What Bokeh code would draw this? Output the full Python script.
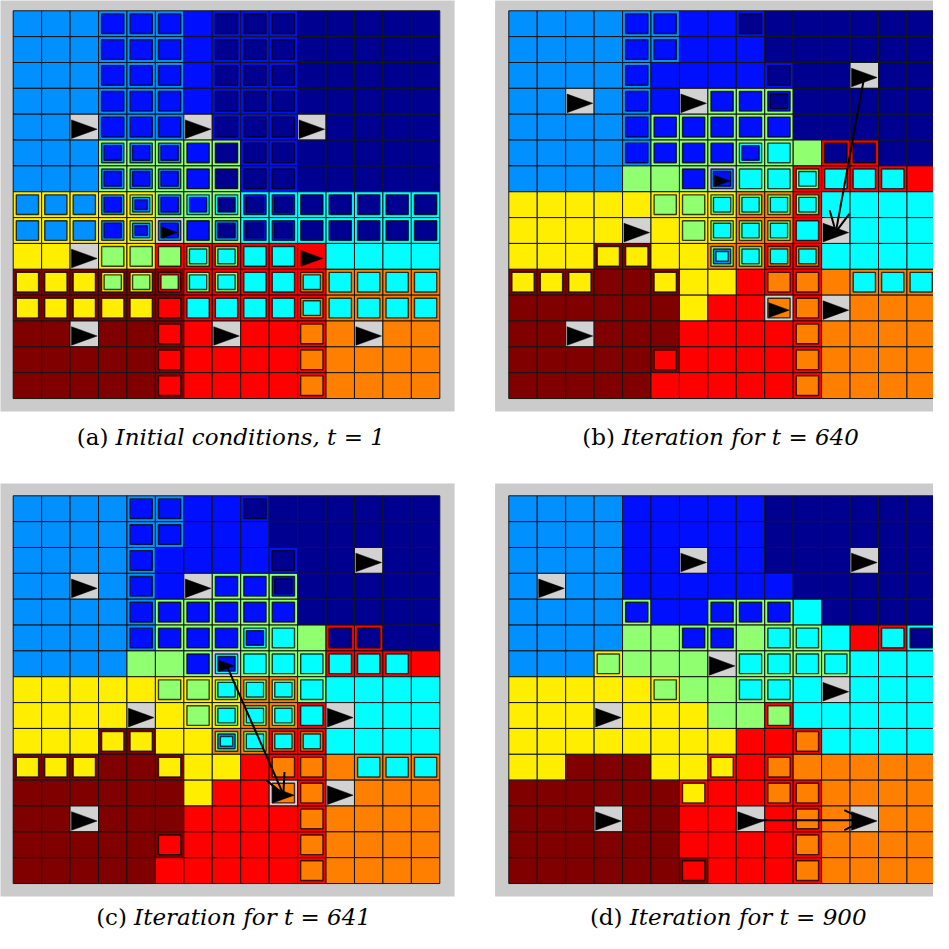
from bokeh.plotting import figure
from bokeh.models import Range1d, Arrow, OpenHead
from bokeh.embed import file_html
from bokeh.resources import INLINE
from bokeh.core.properties import value

# ---------------- data ----------------
# colour codes (jet-like levels) ; W = grey robot cell
COLORS = {"N": "#000090", "B": "#0010FF", "L": "#0090FF", "C": "#00FFFF",
          "G": "#90FF70", "Y": "#FFEE00", "O": "#FF8000", "R": "#FF0000",
          "D": "#800000", "W": "#D2D2D2"}

# each cell: colours from outer ring to inner square
grid_a = [
    "L L L LB LB LB B BN BN BN N N N N N",
    "L L L LB LB LB B BN BN BN N N N N N",
    "L L L LB LB LB B BN BN BN N N N N N",
    "L L L LB LB LB B BN BN BN N N N N N",
    "L L W LB LB LB W BN BN BN W N N N N",
    "L L L GLB GLB GLB GB GN BN BN N N N N N",
    "L L L GLB GLB GLB GB GN BN BN N N N N N",
    "YL YL YL YLB YGLB GLB GCB GCN CBN CBN CN CN CN CN CN",
    "YL YL YL YLB YGLB WLB GB GLN CBN CBN CN CN CN CN CN",
    "Y Y W YG YG RG RGC RGC RC RC R C C C C",
    "DY DY DY DYG DYG DRG RGC RGC RC RC ROC OC OC OC OC",
    "DY DY DY DY DY DR RC RC RC RC ROC OC OC OC OC",
    "D D W D D DR R W R R RO O W O O",
    "D D D D D DR R R R R RO O O O O",
    "D D D D D DR R R R R RO O O O O",
]
grid_b = [
    "L L L L LB LB B B BN N N N N N N",
    "L L L L LB LB B B B N N N N N N",
    "L L L L LB B B B B BN N N W N N",
    "L L W L LB B W GB GB GBN N N N N N",
    "L L L L LB GB GB GB GB GB N N N N N",
    "L L L L LB GB GB GB GCB GC G RN RN N N",
    "L L L L G G GB WLB GC GC RGC RC RC RC R",
    "Y Y Y Y Y YG YG YGC OGC OGC RGC C C C C",
    "Y Y Y Y W Y YG YGC OGC OGC RC W C C C",
    "Y Y Y DY DY Y Y OGLC OGC ROC ROC C C C C",
    "DY DY DY D D DY Y Y R RO RO O OC OC OC",
    "D D D D D D Y R R WO RO W O O O",
    "D D W D D D R R R R RO O O O O",
    "D D D D D DR R R R R RO O O O O",
    "D D D D D R R R R R RO O O O O",
]
grid_c = [
    "L L L L LB LB B B BN N N N N N N",
    "L L L L LB LB B B B N N N N N N",
    "L L L L LB B B B B BN N N W N N",
    "L L W L LB B W GB GB GBN N N N N N",
    "L L L L LB GB GB GB GB GB N N N N N",
    "L L L L LB GB GB GB GCB GC G RN RN N N",
    "L L L L G G GB WCB GC GC GC RC RC RC R",
    "Y Y Y Y Y YG YG YGC OGC OGC GC C C C C",
    "Y Y Y Y W Y YG YGC OGC OGC RC W C C C",
    "Y Y Y DY DY Y Y OGLC OGC ROC ROC C C C C",
    "DY DY DY D D DY Y Y R RO RO O OC OC OC",
    "D D D D D D Y R R WO RO W O O O",
    "D D W D D D R R R R RO O O O O",
    "D D D D D DR R R R R RO O O O O",
    "D D D D D R R R R R RO O O O O",
]
grid_d = [
    "L L L L B B B B B N N N N N N",
    "L L L L B B B B B N N N N N N",
    "L L L L B B W B B N N N W N N",
    "L W L L B B B B B B N N N N N",
    "L L L L GB B B GB GB GB C N N N N",
    "L L L L G G GB GB G GC GC C R RC CN",
    "L L L YG G G G W GC GC GC GC C C C",
    "Y Y Y Y Y YG G G GC GC C W C C C",
    "Y Y Y W Y Y Y G G RG C C C C C",
    "Y Y Y Y Y Y Y Y R R RO C C C C",
    "Y Y D D D Y Y RY R RO O O O O O",
    "D D D D D D RY R R RO RO O O O O",
    "D D D W D D R R W R RO O W O O",
    "D D D D D D R R R R RO O O O O",
    "D D D D D D DR R R R RO O O O O",
]
GRIDS = [grid_a, grid_b, grid_c, grid_d]

# robots: (row, col, scale)
robots_a = [(4, 2, 1.0), (4, 6, 1.0), (4, 10, 1.0), (8, 5, 0.6), (9, 2, 1.0),
            (9, 10, 0.85), (12, 2, 1.0), (12, 7, 1.0), (12, 12, 1.0)]
robots_b = [(2, 12, 1.0), (3, 2, 1.0), (3, 6, 1.0), (6, 7, 0.6), (8, 4, 1.0),
            (8, 11, 1.0), (11, 9, 0.8), (11, 11, 1.0), (12, 2, 1.0)]
robots_c = [(2, 12, 1.0), (3, 2, 1.0), (3, 6, 1.0), (6, 7, 0.6), (8, 4, 1.0),
            (8, 11, 1.0), (11, 9, 0.85), (11, 11, 1.0), (12, 2, 1.0)]
robots_d = [(2, 6, 1.0), (2, 12, 1.0), (3, 1, 1.0), (6, 7, 1.0), (7, 11, 1.0),
            (8, 3, 1.0), (12, 3, 1.0), (12, 8, 1.0), (12, 12, 1.0)]
ROBOTS = [robots_a, robots_b, robots_c, robots_d]

# moves (panel, from_row, from_col, to_row, to_col)
moves = [(1, 2, 12, 8, 11), (2, 6, 7, 11, 9), (3, 12, 8, 12, 12)]

labels = ["(a)", "(b)", "(c)", "(d)"]
captions = ["Initial conditions, t = 1", "Iteration for t = 640",
            "Iteration for t = 641", "Iteration for t = 900"]

# ---------------- layout ----------------
CW, CH = 28.44, 25.85           # pixels per cell
W = H = 933
OX = [0.0, 17.426, 0.0, 17.426]  # panel offsets in cells
OY = [0.0, 0.0, 18.762, 18.762]
X0, Y0 = 12.7, 10.3              # first grid origin in figure px

p = figure(width=W, height=H, output_backend="svg", toolbar_location=None,
           x_range=Range1d(-X0 / CW, (W - X0) / CW),
           y_range=Range1d((H - Y0) / CH, -Y0 / CH),
           min_border=0)
p.axis.visible = False
p.grid.visible = False
p.outline_line_color = None
p.background_fill_color = "white"

# grey frames
p.quad(left=[o - 0.48 for o in OX], right=[o + 15.52 for o in OX],
       top=[o - 0.476 for o in OY], bottom=[o + 15.5 for o in OY],
       fill_color="#CBCBCB", line_color=None)

levels = {}
for pi, grid in enumerate(GRIDS):
    for r, row in enumerate(grid):
        for c, code in enumerate(row.split()):
            for k, ch in enumerate(code):
                d = levels.setdefault(k, dict(x=[], y=[], w=[], h=[], col=[]))
                inset = 0.0 if k == 0 else 0.6 + 2.5 * k
                d["x"].append(OX[pi] + c + 0.5)
                d["y"].append(OY[pi] + r + 0.5)
                d["w"].append(1 - 2 * inset / CW)
                d["h"].append(1 - 2 * inset / CH)
                d["col"].append(COLORS[ch])

for k in sorted(levels):
    d = levels[k]
    if k == 0:
        p.rect(x=d["x"], y=d["y"], width=d["w"], height=d["h"], fill_color=d["col"],
               line_color="#151515", line_width=1.0)
    else:
        p.rect(x=d["x"], y=d["y"], width=d["w"], height=d["h"], fill_color=d["col"],
               line_color="black", line_alpha=0.75, line_width=1.4)

# robot triangles
xs, ys = [], []
for pi, rob in enumerate(ROBOTS):
    for (r, c, s) in rob:
        cx = OX[pi] + c + 0.5
        cy = OY[pi] + r + 0.58
        w2, h2 = 0.45 * s, 0.36 * s
        xs.append([cx - w2, cx - w2, cx + w2])
        ys.append([cy - h2, cy + h2, cy])
p.patches(xs, ys, fill_color="black", line_color="black", line_width=0.5)

# moves
for (pi, r0, c0, r1, c1) in moves:
    p.add_layout(Arrow(end=OpenHead(size=20, line_width=2, line_color="black"),
                       x_start=OX[pi] + c0 + 0.5, y_start=OY[pi] + r0 + 0.55,
                       x_end=OX[pi] + c1 + 0.5, y_end=OY[pi] + r1 + 0.55,
                       line_width=2, line_color="black"))

# captions
split = [3.35, 3.73, 4.0, 4.0]
cap_y = [16.5, 16.5, OY[2] + 16.3, OY[3] + 16.3]
FONT = value("DejaVu Serif")
p.text(x=[OX[i] + split[i] for i in range(4)], y=cap_y, text=labels,
       text_font=FONT, text_font_size="23px",
       text_align="right", text_baseline="middle", text_color="black")
p.text(x=[OX[i] + split[i] + 0.25 for i in range(4)], y=cap_y, text=captions,
       text_font=FONT, text_font_size="23px",
       text_font_style="italic", text_align="left", text_baseline="middle",
       text_color="black")

open("out.html", "w").write(file_html(p, INLINE))
